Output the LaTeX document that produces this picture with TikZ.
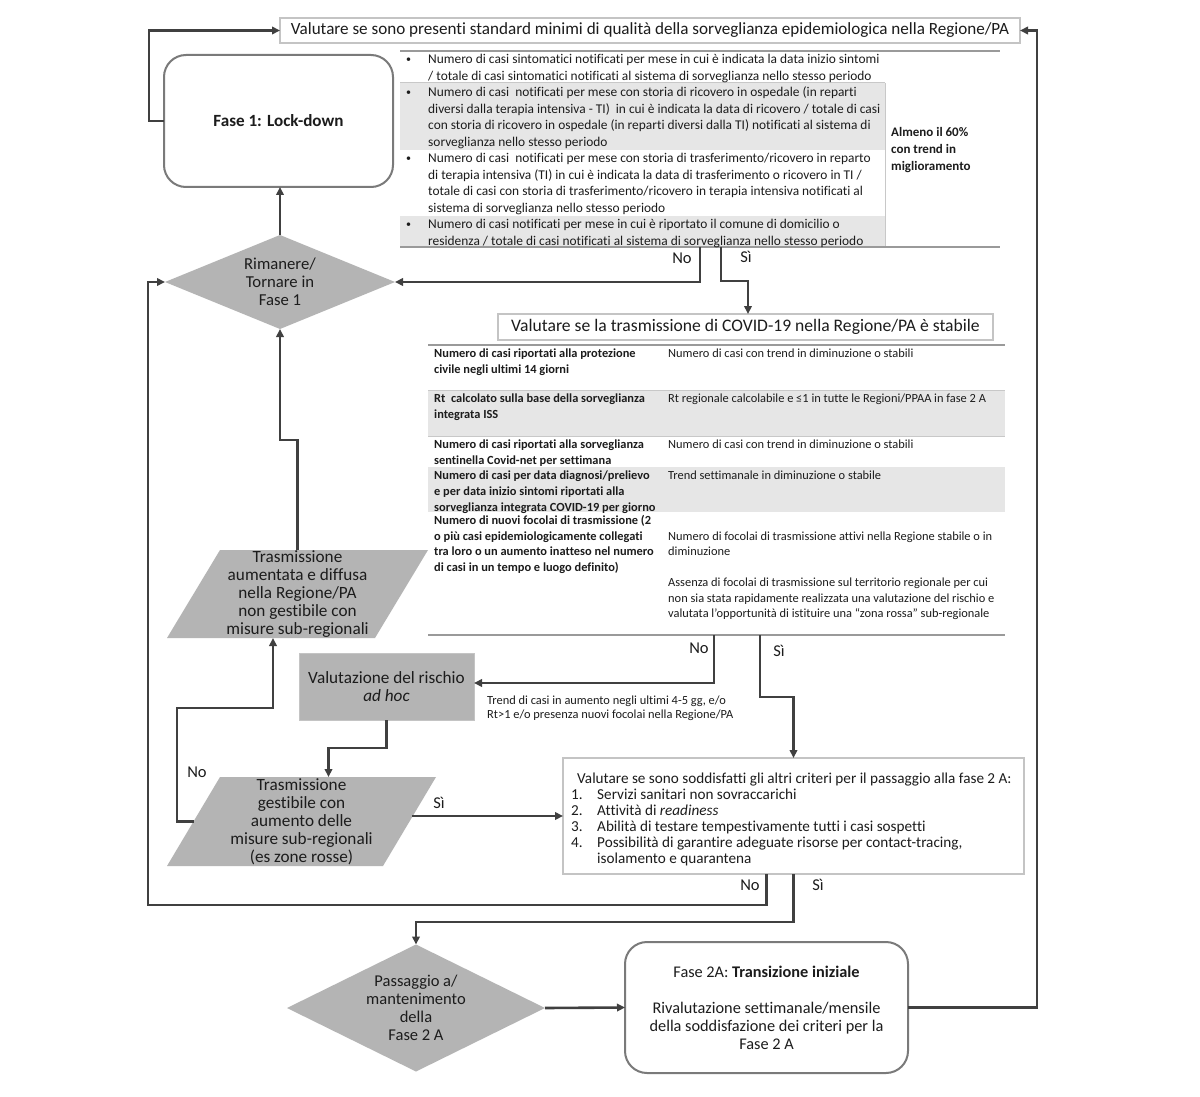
\documentclass[tikz,border=0pt]{standalone}
\usepackage{fontspec}
\setmainfont{Carlito}[Ligatures=NoCommon]
\usetikzlibrary{arrows.meta,shapes.geometric,backgrounds}
\definecolor{arrc}{HTML}{404040}
\definecolor{boxc}{HTML}{C4C4C4}
\definecolor{rbc}{HTML}{7A7A7A}
\definecolor{gfill}{HTML}{B4B4B4}
\definecolor{rowg}{HTML}{E6E6E6}
\definecolor{linec}{HTML}{9A9A9A}
\definecolor{thinc}{HTML}{C8C8C8}
\definecolor{txt}{HTML}{1C1C1C}
\tikzset{
 arr/.style={draw=arrc, line width=2.6pt, -{Triangle[length=8pt,width=7.5pt]}},
 lbox/.style={draw=boxc, line width=1.5pt, fill=white, inner sep=0pt, outer sep=0pt, text=txt},
 rbox/.style={draw=rbc, line width=2pt, rounded corners=22pt, fill=white, inner sep=0pt, outer sep=0pt, text=txt},
 gshape/.style={fill=gfill, inner sep=0pt, outer sep=0pt, font=\fontsize{17.2}{18}\selectfont, align=center, text=txt},
 gtext/.style={inner sep=0pt, outer sep=0pt, font=\fontsize{17.2}{18}\selectfont, align=center, text=txt},
 lab/.style={font=\fontsize{16.5}{18}\selectfont, inner sep=0pt, text=txt},
 ta/.style={font=\fontsize{13.4}{15}\selectfont, inner sep=0pt, anchor=base west, text=txt},
 bul/.style={font=\fontsize{10}{12}\selectfont, inner sep=0pt, anchor=base west, text=txt},
 tb/.style={font=\fontsize{12.4}{14}\selectfont, inner sep=0pt, anchor=base west, text=txt},
 tbb/.style={font=\bfseries\fontsize{12.4}{14}\selectfont, inner sep=0pt, anchor=base west, text=txt},
 tc/.style={font=\fontsize{15.2}{16}\selectfont, inner sep=0pt, anchor=base west, text=txt},
 tlmain/.style={draw=linec, line width=1.5pt},
 tlthin/.style={draw=thinc, line width=1pt},
}
\begin{document}
\begin{tikzpicture}[x=1pt,y=-1pt]
\useasboundingbox (0,0) rectangle (1200,1097);

% ---------- boxes ----------
\node[lbox, font=\fontsize{17.1}{18}\selectfont, minimum width=740pt, minimum height=25pt] (top) at (650,30.5)
  {Valutare se sono presenti standard minimi di qualità della sorveglianza epidemiologica nella Regione/PA};
\node[rbox, minimum width=229pt, minimum height=132pt, font=\bfseries\fontsize{17.1}{18}\selectfont] (f1) at (278.5,121) {Fase 1: Lock-down};
\node[gshape, font=\fontsize{16.7}{18}\selectfont, diamond, aspect=2.45, minimum width=230pt, minimum height=94pt] (d1) at (280,282) {Rimanere/\\Tornare in\\Fase 1};
\node[lbox, font=\fontsize{17.6}{18}\selectfont, minimum width=495pt, minimum height=26pt] (box2) at (745.5,327)
  {Valutare se la trasmissione di COVID-19 nella Regione/PA è stabile};
\node[gtext, minimum width=261pt, minimum height=88pt] (ta) at (297.5,594)
  {Trasmissione\\aumentata e diffusa\\nella Regione/PA\\non gestibile con\\misure sub-regionali};
\node[gshape, draw=boxc, line width=1pt, minimum width=175pt, minimum height=67pt] (val) at (386.5,686.5)
  {Valutazione del rischio\\\textit{ad hoc}};
\node[gtext, minimum width=269pt, minimum height=89pt] (tg) at (301.5,821.5)
  {Trasmissione\\gestibile con\\aumento delle\\misure sub-regionali\\(es zone rosse)};
\node[lbox, minimum width=461pt, minimum height=116pt] (crit) at (793.5,816) {};
\node[gshape, font=\fontsize{16.5}{18}\selectfont, diamond, aspect=2.03, minimum width=258pt, minimum height=127pt] (d2) at (416,1008)
  {Passaggio a/\\mantenimento\\della\\Fase 2 A};
\node[rbox, align=center, font=\fontsize{16.3}{18}\selectfont, minimum width=283pt, minimum height=131pt] (f2) at (766.5,1007.5)
  {Fase 2A: \textbf{Transizione iniziale}\\[18pt]Rivalutazione settimanale/mensile\\della soddisfazione dei criteri per la\\Fase 2 A};

\begin{scope}[on background layer]
\fill[white] (0,0) rectangle (1200,1097);
\fill[gfill] ([xshift=53pt]ta.north west) -- (ta.north east) -- ([xshift=-53pt]ta.south east) -- (ta.south west) -- cycle;
\fill[gfill] ([xshift=53pt]tg.north west) -- (tg.north east) -- ([xshift=-53pt]tg.south east) -- (tg.south west) -- cycle;
\end{scope}

% ---------- table 1 ----------
\fill[rowg] (400,83) rectangle (885,150);
\fill[rowg] (400,216) rectangle (885,247);
\draw[tlmain] (400,51) -- (1000,51);
\draw[tlthin] (400,83) -- (885,83);
\draw[tlthin] (885,83) -- (885,247);
\draw[tlmain] (400,247) -- (1000,247);

\node[bul] (b1) at (406,62.5) {•};
\node[bul] (b2) at (406,95.5) {•};
\node[bul] (b3) at (406,161.3) {•};
\node[bul] (b4) at (406,227.1) {•};
\node[ta] (a1) at (428,64) {Numero di casi sintomatici notificati per mese in cui è indicata la data inizio sintomi};
\node[ta] (a2) at (428,80.5) {/ totale di casi sintomatici notificati al sistema di sorveglianza nello stesso periodo};
\node[ta] (a3) at (428,97) {Numero di casi\ \ notificati per mese con storia di ricovero in ospedale (in reparti};
\node[ta] (a4) at (428,113.4) {diversi dalla terapia intensiva - TI)\ \ in cui è indicata la data di ricovero / totale di casi};
\node[ta] (a5) at (428,129.9) {con storia di ricovero in ospedale (in reparti diversi dalla TI) notificati al sistema di};
\node[ta] (a6) at (428,146.3) {sorveglianza nello stesso periodo};
\node[ta] (a7) at (428,162.8) {Numero di casi\ \ notificati per mese con storia di trasferimento/ricovero in reparto};
\node[ta] (a8) at (428,179.2) {di terapia intensiva (TI) in cui è indicata la data di trasferimento o ricovero in TI /};
\node[ta] (a9) at (428,195.7) {totale di casi con storia di trasferimento/ricovero in terapia intensiva notificati al};
\node[ta] (a10) at (428,212.1) {sistema di sorveglianza nello stesso periodo};
\node[ta] (a11) at (428,228.6) {Numero di casi notificati per mese in cui è riportato il comune di domicilio o};
\node[ta] (a12) at (428,245) {residenza / totale di casi notificati al sistema di sorveglianza nello stesso periodo};
\node[ta, font=\bfseries\fontsize{13}{15}\selectfont] (m1) at (891,137) {Almeno il 60\%};
\node[ta, font=\bfseries\fontsize{13}{15}\selectfont] (m2) at (891,154) {con trend in};
\node[ta, font=\bfseries\fontsize{13}{15}\selectfont] (m3) at (891,171) {miglioramento};

% ---------- table 2 ----------
\fill[rowg] (428,390) rectangle (1005,436);
\fill[rowg] (428,467) rectangle (1005,512);
\draw[tlmain] (428,345) -- (1005,345);
\draw[tlthin] (428,390) -- (1005,390);
\draw[tlthin] (428,436) -- (1005,436);
\draw[tlmain] (428,635) -- (1005,635);

\node[tbb] (l1) at (434,357) {Numero di casi riportati alla protezione};
\node[tbb] (l2) at (434,373) {civile negli ultimi 14 giorni};
\node[tbb] (l3) at (434,402) {Rt\ \ calcolato sulla base della sorveglianza};
\node[tbb] (l4) at (434,418) {integrata ISS};
\node[tbb] (l5) at (434,448) {Numero di casi riportati alla sorveglianza};
\node[tbb] (l6) at (434,464) {sentinella Covid-net per settimana};
\node[tbb] (l7) at (434,479) {Numero di casi per data diagnosi/prelievo};
\node[tbb] (l8) at (434,495) {e per data inizio sintomi riportati alla};
\node[tbb] (l9) at (434,511) {sorveglianza integrata COVID-19 per giorno};
\node[tbb] (l10) at (434,524) {Numero di nuovi focolai di trasmissione (2};
\node[tbb] (l11) at (434,540) {o più casi epidemiologicamente collegati};
\node[tbb] (l12) at (434,555) {tra loro o un aumento inatteso nel numero};
\node[tbb] (l13) at (434,571) {di casi in un tempo e luogo definito)};

\node[tb] (r1) at (668,357) {Numero di casi con trend in diminuzione o stabili};
\node[tb] (r2) at (668,402) {Rt regionale calcolabile e ≤1 in tutte le Regioni/PPAA in fase 2 A};
\node[tb] (r3) at (668,448) {Numero di casi con trend in diminuzione o stabili};
\node[tb] (r4) at (668,479) {Trend settimanale in diminuzione o stabile};
\node[tb] (r5) at (668,540) {Numero di focolai di trasmissione attivi nella Regione stabile o in};
\node[tb] (r6) at (668,555) {diminuzione};
\node[tb] (r7) at (668,586) {Assenza di focolai di trasmissione sul territorio regionale per cui};
\node[tb] (r8) at (668,602) {non sia stata rapidamente realizzata una valutazione del rischio e};
\node[tb] (r9) at (668,617) {valutata l’opportunità di istituire una “zona rossa” sub-regionale};

\node[tb] (tr1) at (487,704) {Trend di casi in aumento negli ultimi 4-5 gg, e/o};
\node[tb] (tr2) at (487,718) {Rt>1 e/o presenza nuovi focolai nella Regione/PA};

% ---------- criteria text ----------
\node[tc] (c0) at (577,783) {Valutare se sono soddisfatti gli altri criteri per il passaggio alla fase 2 A:};
\node[tc] (n1) at (571,799) {1.};
\node[tc] (n2) at (571,815) {2.};
\node[tc] (n3) at (571,831) {3.};
\node[tc] (n4) at (571,847) {4.};
\node[tc] (c1) at (597,799) {Servizi sanitari non sovraccarichi};
\node[tc] (c2) at (597,815) {Attività di \textit{readiness}};
\node[tc] (c3) at (597,831) {Abilità di testare tempestivamente tutti i casi sospetti};
\node[tc] (c4) at (597,847) {Possibilità di garantire adeguate risorse per contact-tracing,};
\node[tc] (c5) at (597,863) {isolamento e quarantena};

% ---------- labels ----------
\node[lab] (no1) at (682,258) {No};
\node[lab] (si1) at (746,257) {Sì};
\node[lab] (no2) at (699,648) {No};
\node[lab] (si2) at (779,651) {Sì};
\node[lab] (no3) at (197,772) {No};
\node[lab] (si3) at (439,803) {Sì};
\node[lab] (no4) at (750,885) {No};
\node[lab] (si4) at (818,885) {Sì};

% ---------- connector anchors ----------
\coordinate (t1no) at (700,247);
\coordinate (t1si) at (721,247);
\coordinate (t2no) at (714,635);
\coordinate (t2si) at (760,635);
\coordinate (lc) at (148,905);
\coordinate (tgl) at (177,708);

% ---------- connectors ----------
\draw[arr] (f1.west) -- ++(-15,0) |- (top.west);
\draw[arr] (d1.north) -- (d1.north |- f1.south);
\draw[arr] (t1no) |- (d1.east);
\draw[arr] (t1si) -- ++(0,34) -| ([xshift=2.5pt]box2.north);
\draw[arr] ([xshift=-27pt]crit.south) |- (lc) |- (d1.west);
\draw[arr] (ta.north) -- ++(0,-110) -| (d1.south);
\draw[arr] (t2no) |- ([yshift=3.5pt]val.east);
\draw[arr] (t2si) -- ++(0,62) -| (crit.north);
\draw[arr] (val.south) -- ++(0,28) -| ([xshift=27pt]tg.north);
\draw[arr] ([xshift=26.5pt]tg.west) -| (tgl) -| ([xshift=-24.5pt]ta.south);
\draw[arr] ([xshift=-24pt,yshift=5.5pt]tg.east) -- (crit.west);
\draw[arr] (crit.south) -- ++(0,48) -| (d2.north);
\draw[arr] (d2.east) -- (f2.west);
\draw[arr] (f2.east) -- ++(129,0) |- (top.east);
\end{tikzpicture}
\end{document}
